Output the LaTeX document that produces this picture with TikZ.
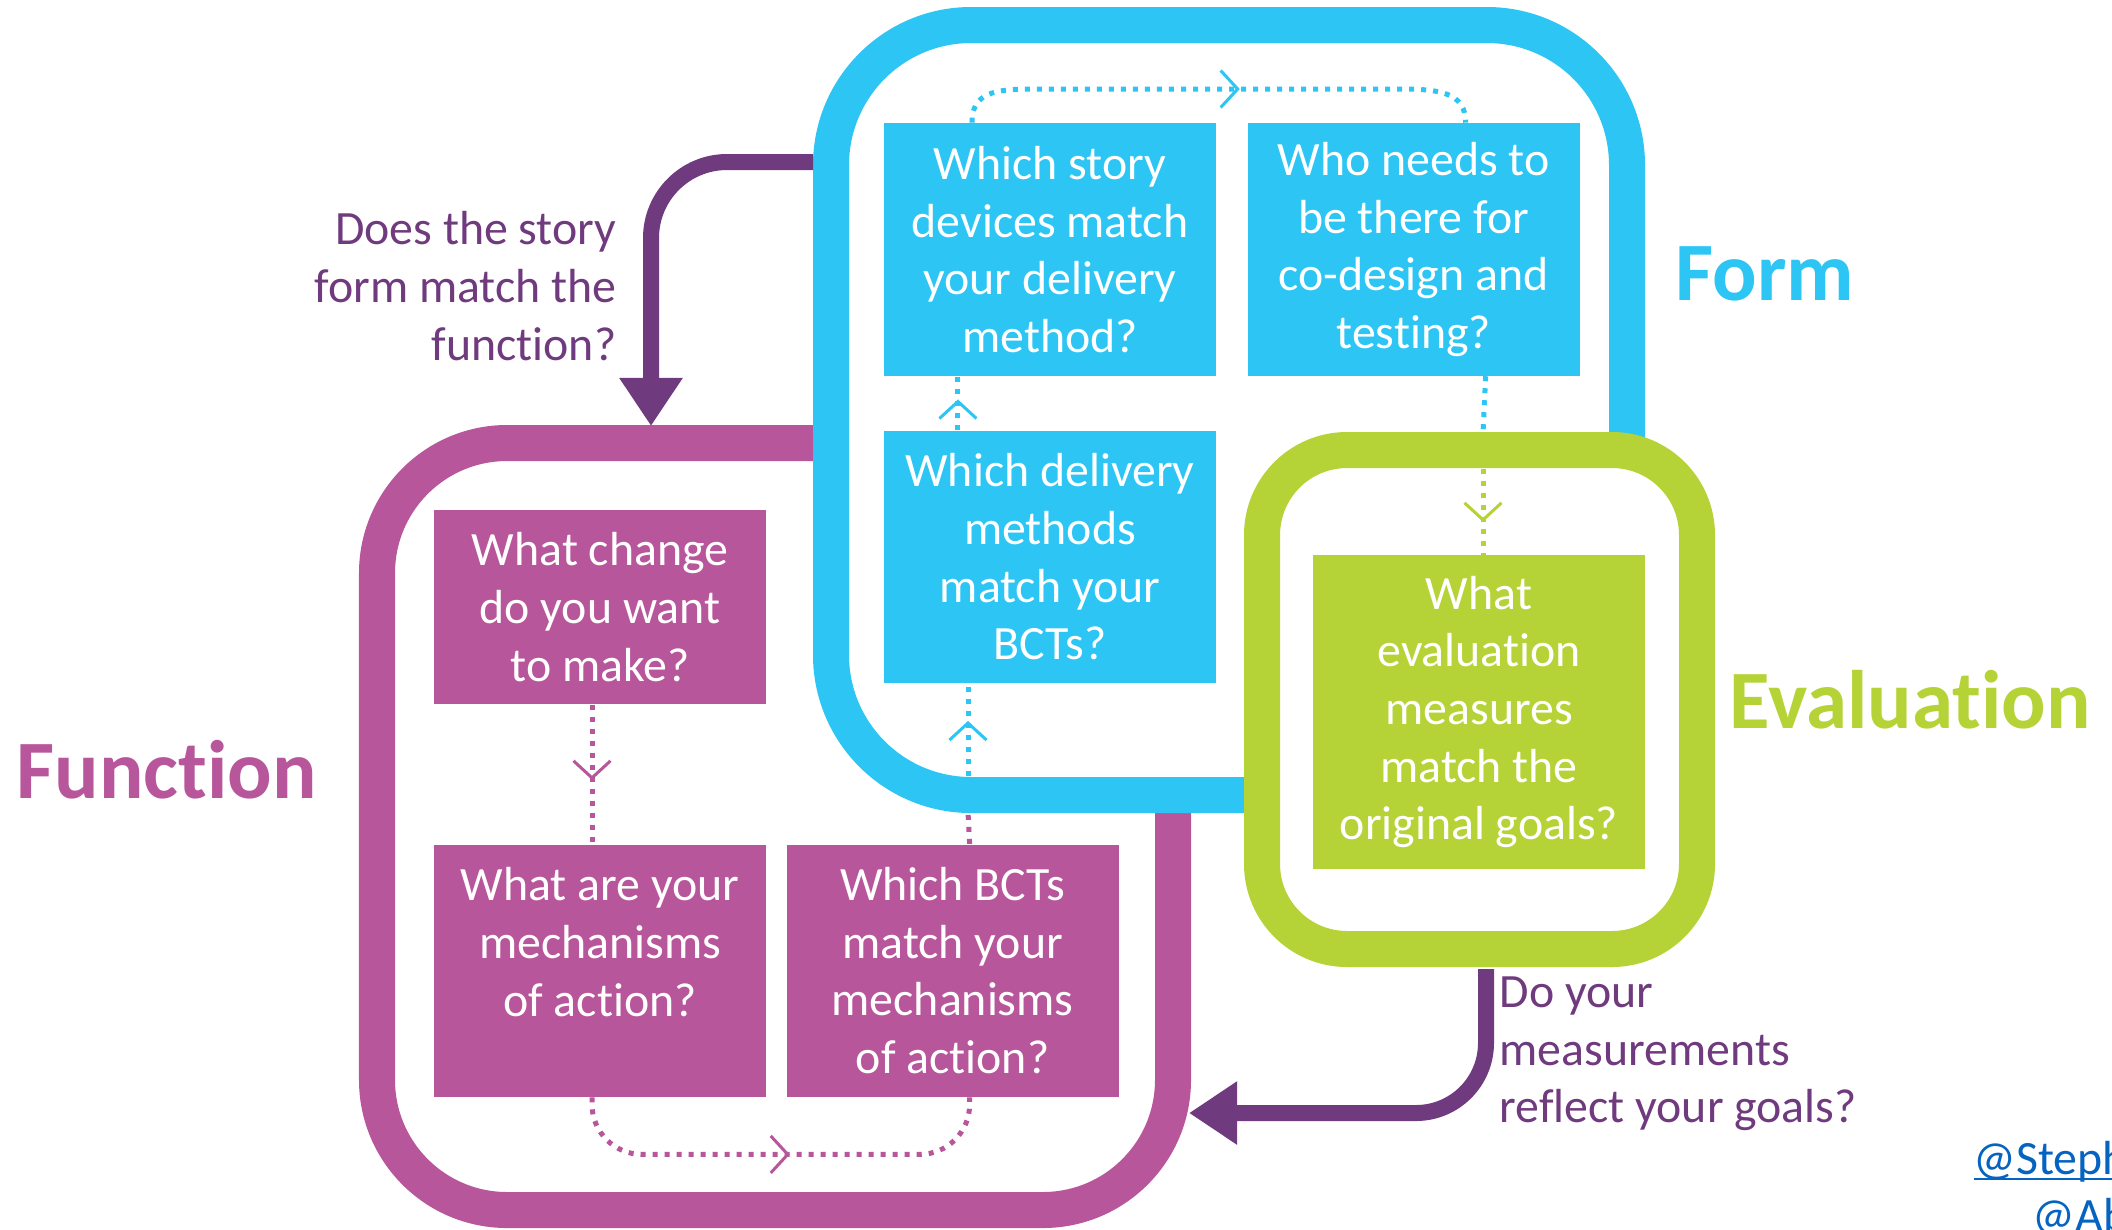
\documentclass[tikz,border=0pt]{standalone}
\usepackage{fontspec}
\setmainfont{Carlito}[Ligatures={NoCommon}, Contextuals={NoAlternate}]
\usetikzlibrary{positioning}
\usetikzlibrary{arrows.meta}
\usetikzlibrary{decorations.markings}

\definecolor{formblue}{RGB}{44,197,244}
\definecolor{funcpink}{RGB}{184,86,156}
\definecolor{evalgreen}{RGB}{181,211,54}
\definecolor{askpurple}{RGB}{112,58,126}
\definecolor{linkblue}{RGB}{5,99,193}

\newcommand{\askfont}{\fontsize{13.6pt}{16.4pt}\selectfont}
\newcommand{\headfont}{\fontsize{23.6pt}{28pt}\selectfont\bfseries}

\begin{document}
\begin{tikzpicture}[x=0.01cm, y=-0.01cm,
	box/.style={fill=#1, text=white, minimum width=3.32cm, minimum height=2.52cm, inner sep=0pt, align=center, font=\askfont},
	band/.style={draw=#1, fill=white, line width=0.36cm},
	flow/.style={draw=#1, line width=0.05cm, dash pattern=on 0.05cm off 0.07cm},
	mid/.style={postaction={decorate}, decoration={markings, mark=at position #1 with {\arrow{Straight Barb[length=0.17cm, width=0.37cm, line width=0.03cm]}}}},
	ask/.style={draw=askpurple, line width=0.16cm, -{Triangle[length=0.48cm, width=0.6cm]}},
	asktext/.style={text=askpurple, font=\askfont, inner sep=0pt},
	heading/.style={text=#1, font=\headfont, inner sep=0pt, anchor=base west}]
	\useasboundingbox (0,0) rectangle (2112,1229);

	\draw[band=funcpink, rounded corners=1.3cm] (377,443) rectangle (1173,1210);
	\draw[band=formblue, rounded corners=1.4cm] (831,25) rectangle (1627,795);
	\draw[band=evalgreen, rounded corners=0.85cm] (1262,450) rectangle (1697,949);

	\node[box=funcpink, minimum height=1.94cm] (change) at (600,607) {What change\\do you want\\to make?};
	\node[box=funcpink, below=1.39cm of change] (mech) {What are your\\mechanisms\\of action?\\\mbox{}};
	\node[box=funcpink, right=0.19cm of mech] (bcts) {Which BCTs\\match your\\mechanisms\\of action?};
	\node[box=formblue] (deliv) at (1050,557) {Which delivery\\methods\\match your\\BCTs?};
	\node[box=formblue, above=0.54cm of deliv] (story) {Which story\\devices match\\your delivery\\method?};
	\node[box=formblue, right=0.30cm of story] (who) {Who needs to\\be there for\\co-design and\\testing?};
	\node[box=evalgreen, minimum height=3.13cm] (eval) at (1479,712) {What\\evaluation\\measures\\match the\\original goals?};

	\coordinate (formbottom) at (968,812);
	\coordinate (evaltop) at (1483,433);
	\draw[flow=funcpink, mid=0.54] ([xshift=-0.08cm]change.south) -- ([xshift=-0.08cm]mech.north);
	\draw[flow=funcpink, mid=0.52, rounded corners=0.5cm] ([xshift=-0.08cm]mech.south) -- ++(0,57) -| ([xshift=0.17cm]bcts.south);
	\draw[flow=funcpink] ([xshift=0.17cm]bcts.north) -- (formbottom);
	\draw[flow=formblue, mid=0.71] (formbottom) -- (formbottom |- deliv.south);
	\draw[flow=formblue, mid=0.57] ([xshift=-0.92cm]deliv.north) -- ([xshift=-0.92cm]story.south);
	\draw[flow=formblue, mid=0.54] ([xshift=-0.78cm]story.north) .. controls +(0,-30) and +(-40,0) .. (1034,89) -- (1400,89) .. controls +(40,0) and +(0,-30) .. ([xshift=0.52cm]who.north);
	\draw[flow=formblue] ([xshift=0.72cm]who.south) -- (evaltop);
	\draw[flow=evalgreen, mid=0.73] (evaltop) -- (evaltop |- eval.north);

	\coordinate (formleft) at (813,162);
	\coordinate (functop) at (651,426);
	\coordinate (evalbottom) at (1486,969);
	\coordinate (funcright) at (1189,1113);
	\draw[ask, rounded corners=0.76cm] (formleft) -| (functop);
	\draw[ask, rounded corners=0.7cm] (evalbottom) |- (funcright);

	\node[asktext, anchor=east, align=right] (formq) at (617,286) {Does the story\\form match the\\function?};
	\node[asktext, anchor=west, align=left] (evalq) at (1499,1054) {Do your\\measurements\\reflect your goals?};

	\node[heading=formblue] (formt) at (1675,300) {Form};
	\node[heading=evalgreen] (evalt) at (1729,728) {Evaluation};
	\node[heading=funcpink] (funct) at (16,798) {Function};

	\node[text=linkblue, font=\askfont, inner sep=0pt, anchor=base west] (steph) at (1973,1174) {\underline{\smash{@Steph}}};
	\node[text=linkblue, font=\askfont, inner sep=0pt, anchor=base west] (ab) at (2032,1231) {@Ab};
\end{tikzpicture}
\end{document}
